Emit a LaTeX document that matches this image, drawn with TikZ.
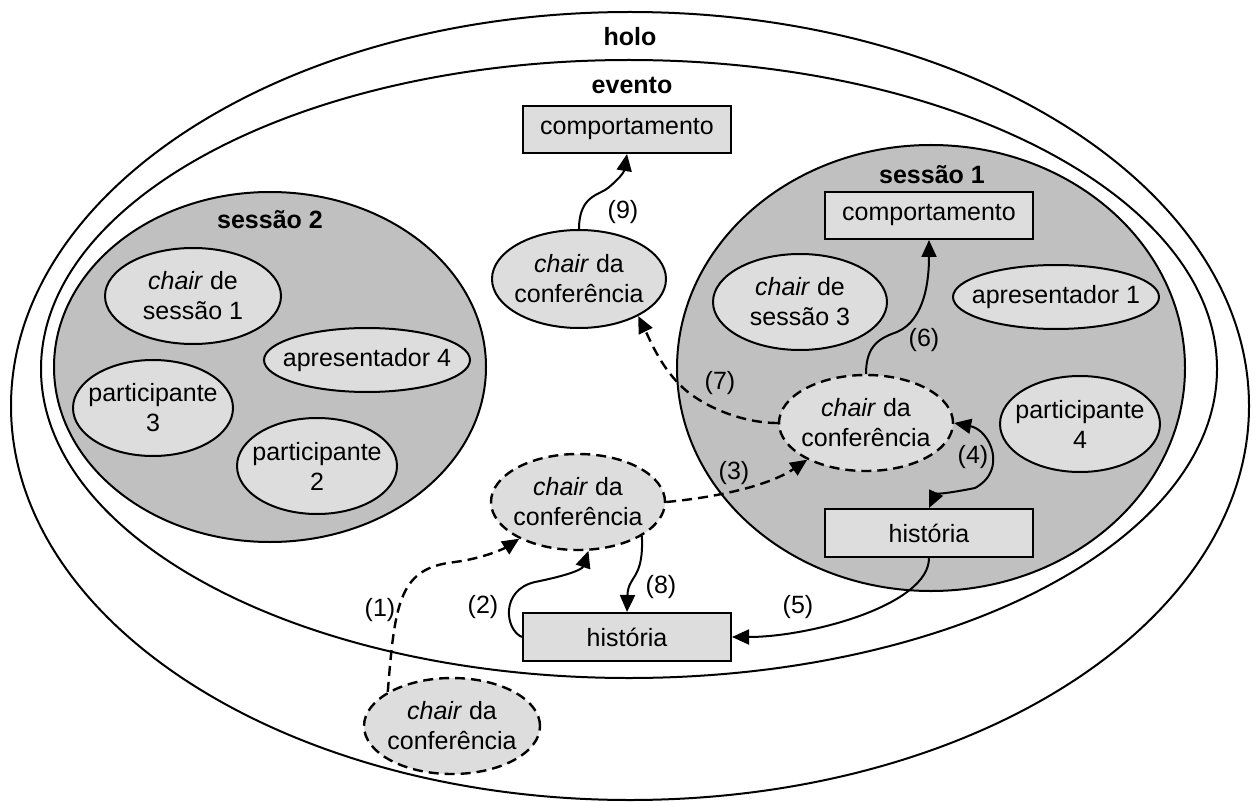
\documentclass[tikz,border=0pt]{standalone}
\usepackage{fontspec}
\setmainfont{Liberation Sans}
\usetikzlibrary{shapes.geometric,arrows.meta}
\definecolor{sessfill}{HTML}{C0C0C0}
\definecolor{itemfill}{HTML}{DDDDDD}

\begin{document}
\begin{tikzpicture}[x=1pt,y=-1pt,
  every node/.style={font=\fontsize{25}{30}\selectfont},
  ring/.style={ellipse, draw, line width=2pt, inner sep=0pt},
  sess/.style={ellipse, draw, fill=sessfill, line width=2pt, inner sep=0pt},
  actor/.style={ellipse, draw, fill=itemfill, line width=2pt, inner sep=0pt},
  ghost/.style={actor, line width=2.4pt, dash pattern=on 10pt off 6pt},
  txt/.style={align=center, inner sep=0pt},
  title/.style={inner sep=0pt, font=\fontsize{25}{30}\selectfont\bfseries},
  store/.style={rectangle, draw, fill=itemfill, line width=2pt,
                minimum width=208pt, minimum height=47pt, inner sep=0pt},
  link/.style={line width=2pt, -{Triangle[length=17pt,width=15pt]}},
  twoway/.style={line width=2pt,
    {Triangle[length=17pt,width=15pt]}-{Triangle[length=17pt,width=15pt]}},
  dlink/.style={link, line width=2.4pt, dash pattern=on 10pt off 6pt},
  num/.style={inner sep=0pt}]

\useasboundingbox (0,0) rectangle (1260,802);
\fill[white] (0,0) rectangle (1260,802);

% outer containers
\node[ring, minimum width=1238pt, minimum height=788pt] (holo) at (630,406) {};
\node[title] (holoT) at (630,37) {holo};
\node[ring, minimum width=1176pt, minimum height=618pt] (evento) at (629,369) {};
\node[title] (eventoT) at (632,85) {evento};

% sessions
\node[sess, minimum width=432pt, minimum height=350pt] (s2) at (270,367) {};
\node[title] (s2T) at (270,220) {sessão 2};
\node[sess, minimum width=508pt, minimum height=446pt] (s1) at (931,368) {};
\node[title] (s1T) at (932,175) {sessão 1};

% behaviours and histories
\node[store] (b0) at (627,129.5) {comportamento};
\node[store] (b1) at (929,215.5) {comportamento};
\node[store, minimum height=48pt] (h1) at (929,533) {história};
\node[store, minimum height=48pt] (h2) at (627,637) {história};

% roles inside sessão 2
\node[actor, minimum width=176pt, minimum height=96pt,
      label={[txt]center:{\textit{chair} de\\sessão 1}}] (cs1) at (193,296) {};
\node[actor, minimum width=206pt, minimum height=64pt,
      label={[txt]center:{apresentador 4}}] (ap4) at (367,360) {};
\node[actor, minimum width=160pt, minimum height=96pt,
      label={[txt]center:{participante\\3}}] (p3) at (153,408) {};
\node[actor, minimum width=160pt, minimum height=96pt,
      label={[txt]center:{participante\\2}}] (p2) at (317,466) {};

% roles inside sessão 1
\node[actor, minimum width=174pt, minimum height=96pt,
      label={[txt]center:{\textit{chair} de\\sessão 3}}] (cs3) at (800,302) {};
\node[actor, minimum width=206pt, minimum height=64pt,
      label={[txt]center:{apresentador 1}}] (ap1) at (1056,297) {};
\node[actor, minimum width=160pt, minimum height=96pt,
      label={[txt]center:{participante\\4}}] (p4) at (1080,424) {};

% the conference chair at its successive places
\node[actor, minimum width=174pt, minimum height=98pt,
      label={[txt]center:{\textit{chair} da\\conferência}}] (cA) at (579,279) {};
\node[ghost, minimum width=174pt, minimum height=96pt,
      label={[txt]center:{\textit{chair} da\\conferência}}] (cD) at (866,423) {};
\node[ghost, minimum width=174pt, minimum height=96pt,
      label={[txt]center:{\textit{chair} da\\conferência}}] (cC) at (578,502) {};
\node[ghost, minimum width=176pt, minimum height=96pt,
      label={[txt]center:{\textit{chair} da\\conferência}}] (cE) at (452,726) {};

% movements
\draw[dlink] (cE.152) .. controls (395,600) and (400,568) .. (455,562)
  .. controls (485,558) and (505,548) .. (cC.212);
\draw[link] (h2.west) .. controls (505,630) and (500,590) .. (535,582)
  .. controls (565,576) and (582,570) .. (cC.282);
\draw[dlink] (cC.east) .. controls (720,497) and (770,485) .. (cD.212);
\draw[twoway]
  (cD.east) .. controls (990,430) and (1008,470) .. (975,488)
  .. controls (955,492) and (935,495) .. (h1.north);
\draw[link] (h1.south) .. controls (929,605) and (810,637) .. (h2.east);
\draw[link] (cD.north) .. controls (866,345) and (880,338) .. (897,332)
  .. controls (925,320) and (929,280) .. (b1.south);
\draw[dlink] (cD.west) .. controls (740,423) and (700,405) .. (680,385)
  .. controls (660,365) and (650,340) .. (cA.328);
\draw[link] (cC.332) .. controls (644,580) and (628,575) .. (h2.north);
\draw[link] (cA.north) .. controls (579,195) and (600,195) .. (608,188)
  .. controls (620,178) and (624,172) .. (b0.south);

% step numbers
\node[num] (n1) at (380,610) {(1)};
\node[num] (n2) at (483,607) {(2)};
\node[num] (n3) at (734,473) {(3)};
\node[num] (n4) at (973,457) {(4)};
\node[num] (n5) at (798,607) {(5)};
\node[num] (n6) at (924,340) {(6)};
\node[num] (n7) at (720,383) {(7)};
\node[num] (n8) at (661,587) {(8)};
\node[num] (n9) at (623,212) {(9)};
\end{tikzpicture}
\end{document}
